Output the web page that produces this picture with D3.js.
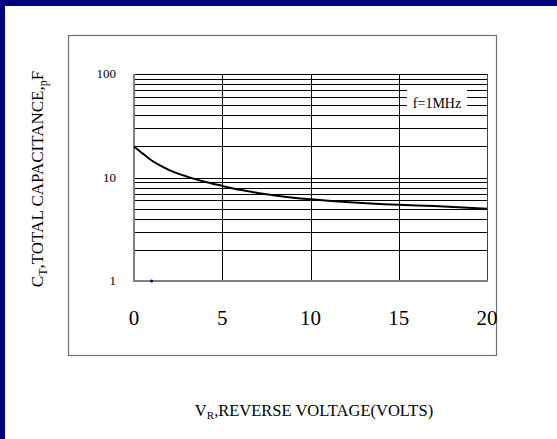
<!DOCTYPE html>
<html>
<head>
<meta charset="utf-8">
<script src="https://cdn.jsdelivr.net/npm/d3@7/dist/d3.min.js"></script>
<style>
  html, body { margin: 0; padding: 0; background: #fff; }
  svg { display: block; }
  text { font-family: "Liberation Serif", "DejaVu Serif", serif; fill: #000; }
</style>
</head>
<body>
<svg id="chart" width="557" height="439"></svg>
<script>
// ---- data ----
const voltage     = [0, 0.5, 1, 1.5, 2, 2.5, 3, 4, 5, 6, 7, 8, 10, 12, 15, 17, 20];
const capacitance = [20, 17, 14.6, 13, 11.8, 10.9, 10.2, 9.1, 8.3, 7.6, 7.1, 6.7, 6.15, 5.8, 5.45, 5.3, 5.0];
const markerPoint = [[1, 1]];
const xTicks = [0, 5, 10, 15, 20];
const yTicks = [1, 10, 100];
const yMinorGrid = [2, 3, 4, 5, 6, 7, 8, 9, 10, 20, 30, 40, 50, 60, 70, 80, 90];
const legendText = "f=1MHz";

// ---- layout ----
const W = 557, H = 439;
const plot = { left: 134, right: 487, top: 74, bottom: 281 };

const svg = d3.select("#chart");
svg.append("rect").attr("width", W).attr("height", H).attr("fill", "#fff");

// blue page border (top and left)
svg.append("rect").attr("x", 0).attr("y", 0).attr("width", W).attr("height", 6).attr("fill", "#000080");
svg.append("rect").attr("x", 0).attr("y", 0).attr("width", 5).attr("height", H).attr("fill", "#000080");

// outer frame
svg.append("rect")
  .attr("x", 68.5).attr("y", 35.5).attr("width", 428).attr("height", 320)
  .attr("fill", "none").attr("stroke", "#707070").attr("stroke-width", 1.2);

const x = d3.scaleLinear().domain([0, 20]).range([plot.left, plot.right]);
const y = d3.scaleLog().domain([1, 100]).range([plot.bottom, plot.top]);

const g = svg.append("g").attr("shape-rendering", "crispEdges");

// horizontal grid lines
g.selectAll("line.hg").data(yMinorGrid).enter().append("line")
  .attr("x1", plot.left).attr("x2", plot.right)
  .attr("y1", d => Math.round(y(d)) + 0.5).attr("y2", d => Math.round(y(d)) + 0.5)
  .attr("stroke", "#000").attr("stroke-width", 1);

// vertical grid lines
g.selectAll("line.vg").data(xTicks.slice(1, -1)).enter().append("line")
  .attr("x1", d => Math.round(x(d)) + 0.5).attr("x2", d => Math.round(x(d)) + 0.5)
  .attr("y1", plot.top).attr("y2", plot.bottom)
  .attr("stroke", "#000").attr("stroke-width", 1);

// borders of plot area
g.append("line").attr("x1", plot.left).attr("x2", plot.right)
  .attr("y1", y(100) + 0.5).attr("y2", y(100) + 0.5).attr("stroke", "#000");
g.append("line").attr("x1", x(20) + 0.5).attr("x2", x(20) + 0.5)
  .attr("y1", plot.top).attr("y2", plot.bottom + 1).attr("stroke", "#444").attr("stroke-width", 1.5);
g.append("line").attr("x1", x(0)).attr("x2", x(0))
  .attr("y1", plot.top).attr("y2", plot.bottom + 1).attr("stroke", "#808080").attr("stroke-width", 2);
g.append("line").attr("x1", plot.left).attr("x2", plot.right + 1)
  .attr("y1", y(1)).attr("y2", y(1)).attr("stroke", "#808080").attr("stroke-width", 2);

// legend box
const lgx = 437, lgy = 100;
svg.append("rect").attr("x", lgx - 30).attr("y", lgy - 12).attr("width", 60).attr("height", 23).attr("fill", "#fff");
svg.append("text").attr("x", lgx).attr("y", lgy + 8).attr("text-anchor", "middle")
  .attr("font-size", 14).text(legendText);

// curve
const line = d3.line().x(d => x(d[0])).y(d => y(d[1])).curve(d3.curveMonotoneX);
svg.append("path").datum(voltage.map((v, i) => [v, capacitance[i]]))
  .attr("d", line).attr("fill", "none").attr("stroke", "#000").attr("stroke-width", 2);

// small marker
svg.selectAll("circle.m").data(markerPoint).enter().append("circle")
  .attr("cx", d => x(d[0])).attr("cy", d => y(d[1])).attr("r", 1.5).attr("fill", "#000080");

// x tick labels
svg.selectAll("text.xt").data(xTicks).enter().append("text")
  .attr("x", d => x(d)).attr("y", 325).attr("text-anchor", "middle")
  .attr("font-size", 21).text(d => d);

// y tick labels
svg.selectAll("text.yt").data(yTicks).enter().append("text")
  .attr("x", 116).attr("y", d => y(d) + 4).attr("text-anchor", "end")
  .attr("font-size", 13).text(d => d);

// y axis title
const yt = svg.append("text").attr("transform", "translate(43,179) rotate(-90)")
  .attr("text-anchor", "middle").attr("font-size", 17);
yt.append("tspan").text("C");
yt.append("tspan").attr("dy", 4).attr("font-size", 12).text("T");
yt.append("tspan").attr("dy", -4).text(",TOTAL CAPACITANCE,");
yt.append("tspan").attr("dy", 4).attr("font-size", 12).text("p");
yt.append("tspan").attr("dy", -4).text("F");

// x axis title
const xt = svg.append("text").attr("x", 314).attr("y", 416).attr("text-anchor", "middle").attr("font-size", 16.5);
xt.append("tspan").text("V");
xt.append("tspan").attr("dy", 3).attr("font-size", 11).text("R");
xt.append("tspan").attr("dy", -3).text(",REVERSE VOLTAGE(VOLTS)");
</script>
</body>
</html>
